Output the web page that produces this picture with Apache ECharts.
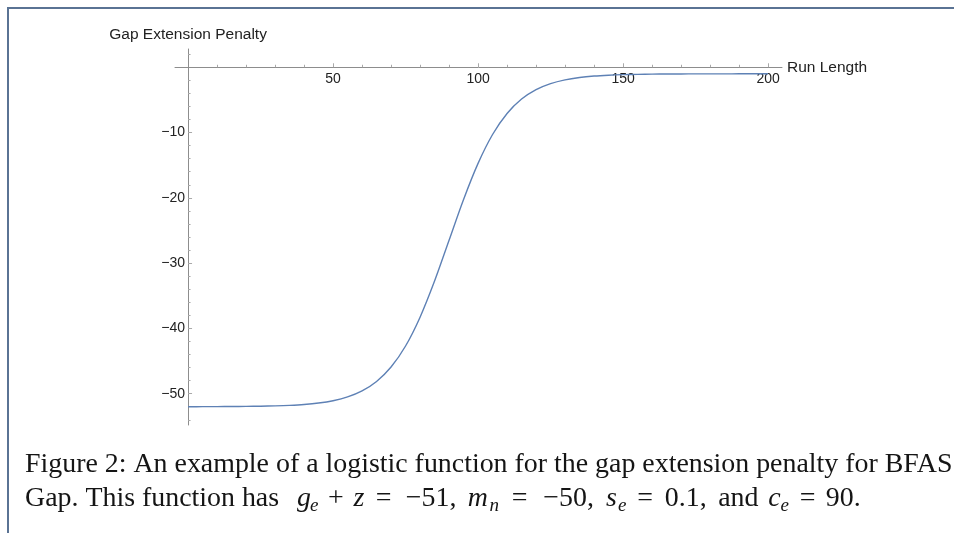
<!DOCTYPE html>
<html>
<head>
<meta charset="utf-8">
<title>Gap Extension Penalty</title>
<script src="https://cdn.jsdelivr.net/npm/echarts@6/dist/echarts.min.js"></script>
<style>
  html, body { margin: 0; padding: 0; background: #ffffff; }
  #chart { width: 954px; height: 533px; }
</style>
</head>
<body>
<div id="chart"></div>
<script>
// Run length samples and the logistic gap extension penalty at each of them
var runLength = [0, 5, 10, 15, 20, 25, 30, 35, 40, 45, 50, 55, 60, 65, 70, 75, 80, 85, 90, 95,
  100, 105, 110, 115, 120, 125, 130, 135, 140, 145, 150, 155, 160, 165, 170, 175, 180, 185, 190, 195, 200];
var penalty = [-52.00, -51.99, -51.98, -51.97, -51.95, -51.92, -51.87, -51.79, -51.66, -51.44,
  -51.08, -50.50, -49.58, -48.13, -45.92, -42.70, -38.28, -32.75, -26.50, -20.25,
  -14.72, -10.30, -7.08, -4.87, -3.42, -2.50, -1.92, -1.56, -1.34, -1.21,
  -1.13, -1.08, -1.05, -1.03, -1.02, -1.01, -1.01, -1.01, -1.00, -1.00, -1.00];

// Tick positions
var xMajorTicks = [50, 100, 150, 200];
var xMinorTicks = [10, 20, 30, 40, 60, 70, 80, 90, 110, 120, 130, 140, 160, 170, 180, 190];
var yMajorTicks = [-50, -40, -30, -20, -10];
var yMinorTicks = [-54, -52, -48, -46, -44, -42, -38, -36, -34, -32, -28, -26, -24, -22,
  -18, -16, -14, -12, -8, -6, -4, -2, 2];

// Axis titles
var xTitle = 'Run Length';
var yTitle = 'Gap Extension Penalty';

// Caption: first line is plain text, second line mixes roman and math pieces
// [text, kind, advance width in px]
var captionLine1 = 'Figure 2: An example of a logistic function for the gap extension penalty for BFAS';
var captionLine2 = [
  ['Gap. This function has ', 'rm', 272],
  ['g', 'it', 13.1], ['e', 'sub', 9.0], ['+', 'op', 33.5], ['z', 'it', 12.8], ['=', 'op', 36.5],
  ['\u221251, ', 'rm', 65.5],
  ['m', 'it', 21.0], ['n', 'sub', 11.5], ['=', 'op', 39.5], ['\u221250, ', 'rm', 65.5],
  ['s', 'it', 12.9], ['e', 'sub', 9.0], ['=', 'op', 36.5], ['0.1, ', 'rm', 51.8],
  ['and ', 'rm', 53.3],
  ['c', 'it', 11.9], ['e', 'sub', 9.0], ['=', 'op', 36.5], ['90.', 'rm', 35.0]
];

// Axis ranges (axes cross at the origin)
var X_MIN = -4.5, X_MAX = 204.8;
var Y_MIN = -54.8, Y_MAX = 2.8;

var GRID = { left: 175, top: 49, width: 607, height: 376 };
// shift each axis from the grid edge onto the other axis's zero
var xAxisShift = -(Y_MAX / (Y_MAX - Y_MIN)) * GRID.height;
var yAxisShift = -((0 - X_MIN) / (X_MAX - X_MIN)) * GRID.width;

var axisGray = '#8d8d8d';
var tickGray = '#a9a9a9';
var sans = 'Liberation Sans, Arial, sans-serif';
var labelFont = { fontFamily: sans, fontSize: 14, color: '#222222' };
var titleFont = { fontFamily: sans, fontSize: 15.5, color: '#222222' };
var serif = 'Liberation Serif, Times New Roman, serif';
var capSize = 27.9;
var capColor = '#151515';

function minusFmt(v) {
  return v < 0 ? '\u2212' + Math.abs(v) : String(v);
}

function xAxisDef(ticks, tickLen, major) {
  return {
    type: 'value', min: X_MIN, max: X_MAX, position: 'top', offset: xAxisShift,
    name: major ? xTitle : '', nameLocation: 'end', nameGap: 5,
    nameTextStyle: Object.assign({ align: 'left', verticalAlign: 'middle' }, titleFont),
    axisLine: { show: true, onZero: false, lineStyle: { color: axisGray, width: 1, opacity: major ? 1 : 0 } },
    axisTick: { show: true, inside: false, length: tickLen, customValues: ticks, lineStyle: { color: tickGray } },
    axisLabel: Object.assign({ show: major, inside: true, margin: 5, customValues: ticks, formatter: minusFmt }, labelFont),
    splitLine: { show: false }
  };
}

function yAxisDef(ticks, tickLen, major) {
  return {
    type: 'value', min: Y_MIN, max: Y_MAX, position: 'left', offset: yAxisShift,
    name: major ? yTitle : '', nameLocation: 'end', nameGap: 6,
    nameTextStyle: Object.assign({ align: 'center', verticalAlign: 'bottom' }, titleFont),
    axisLine: { show: true, onZero: false, lineStyle: { color: axisGray, width: 1, opacity: major ? 1 : 0 } },
    axisTick: { show: true, inside: true, length: tickLen, customValues: ticks, lineStyle: { color: tickGray } },
    axisLabel: Object.assign({ show: major, margin: 3, customValues: ticks, formatter: minusFmt }, labelFont),
    splitLine: { show: false }
  };
}

// Build the rich-text string and styles for the mixed caption line
function buildRichLine(pieces) {
  var kinds = {
    rm: { fontFamily: serif, fontSize: capSize, lineHeight: 33, align: 'left' },
    it: { fontFamily: serif, fontStyle: 'italic', fontSize: capSize, lineHeight: 33, align: 'left' },
    op: { fontFamily: serif, fontSize: capSize, lineHeight: 33, align: 'center' },
    sub: { fontFamily: serif, fontStyle: 'italic', fontSize: 19, lineHeight: 18, verticalAlign: 'bottom', align: 'left' }
  };
  var rich = {};
  var text = '';
  pieces.forEach(function (p, i) {
    var name = 't' + i;
    rich[name] = Object.assign({ width: p[2], fill: capColor }, kinds[p[1]]);
    text += '{' + name + '|' + p[0] + '}';
  });
  return { text: text, rich: rich };
}

var line2 = buildRichLine(captionLine2);

var chart = echarts.init(document.getElementById('chart'), null, { renderer: 'canvas' });

var option = {
  animation: false,
  backgroundColor: '#ffffff',
  grid: Object.assign({ containLabel: false, outerBoundsMode: 'none' }, GRID),
  xAxis: [xAxisDef(xMajorTicks, 4, true), xAxisDef(xMinorTicks, 2.5, false)],
  yAxis: [yAxisDef(yMajorTicks, 4, true), yAxisDef(yMinorTicks, 2.5, false)],
  series: [
    {
      type: 'line',
      xAxisIndex: 0, yAxisIndex: 0,
      data: runLength.map(function (x, i) { return [x, penalty[i]]; }),
      showSymbol: false, symbol: 'none',
      smooth: 0.3,
      lineStyle: { color: '#5e81b5', width: 1.4 },
      z: 5
    }
  ],
  graphic: [
    {
      type: 'polyline', silent: true,
      shape: { points: [[8, 533], [8, 8], [954, 8]] },
      style: { stroke: '#5a7394', lineWidth: 2, fill: null }
    },
    {
      type: 'text', left: 25, top: 451, silent: true,
      style: {
        text: captionLine1,
        fontFamily: serif, fontSize: capSize, fill: capColor
      }
    },
    {
      type: 'text', left: 25, top: 482, silent: true,
      style: {
        text: line2.text,
        fontFamily: serif, fontSize: capSize, lineHeight: 33, fill: capColor,
        rich: line2.rich
      }
    }
  ]
};

chart.setOption(option);
</script>
</body>
</html>
